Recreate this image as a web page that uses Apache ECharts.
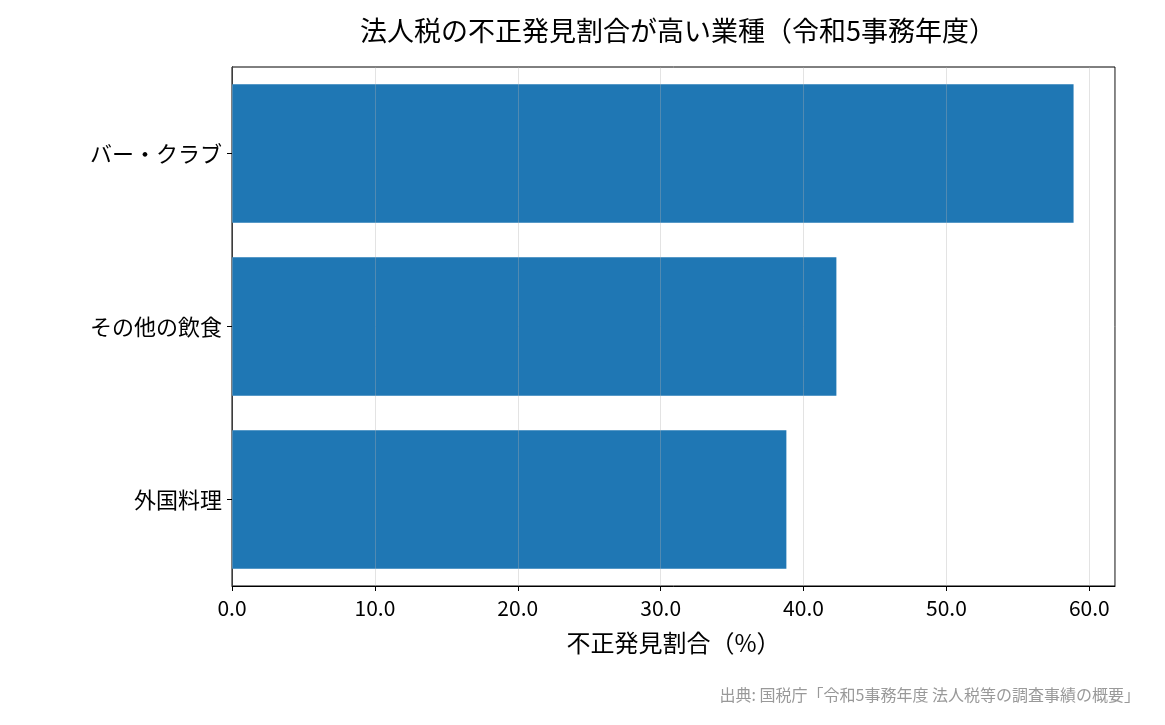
<!DOCTYPE html>
<html><head><meta charset="utf-8">
<script src="https://cdn.jsdelivr.net/npm/echarts@6/dist/echarts.min.js"></script>
<style>body{margin:0}#c{width:1165px;height:725px}</style></head>
<body><div id="c"></div>
<script>
const categories = ['バー・クラブ', 'その他の飲食', '外国料理'];
const values = [58.9, 42.3, 38.8];
const chart = echarts.init(document.getElementById('c'));
const F = '"Noto Sans CJK JP", sans-serif';
chart.setOption({
  animation: false,
  title: [{text: '法人税の不正発見割合が高い業種（令和5事務年度）', left: 673, top: 12, textAlign: 'center',
    textStyle: {fontFamily: F, fontSize: 27, fontWeight: 'normal', color: '#000'}},
    {text: '出典: 国税庁「令和5事務年度 法人税等の調査事績の概要」', right: 20, top: 682,
    textStyle: {fontFamily: F, fontSize: 16, fontWeight: 'normal', color: '#999'}}],
  grid: {left: 232, right: 50, top: 67, bottom: 139, show: true, borderColor: '#000', borderWidth: 1},
  xAxis: {type: 'value', min: 0, max: 61.8, interval: 10, z: 3,
    name: '不正発見割合（%）', nameLocation: 'middle', nameGap: 45,
    nameTextStyle: {fontFamily: F, fontSize: 24, color: '#000'},
    axisLine: {show: true, lineStyle: {color: '#000'}},
    axisTick: {show: true, length: 5, lineStyle: {color: '#000'}, interval: 0},
    axisLabel: {fontFamily: F, fontSize: 21, color: '#000', margin: 12,
      formatter: v => (Math.abs(v % 10) < 1e-6 ? v.toFixed(1) : ''), showMaxLabel: false},
    splitLine: {show: true, lineStyle: {color: 'rgba(176,176,176,0.35)'}}},
  yAxis: {type: 'category', data: categories, inverse: true,
    axisLine: {show: true, lineStyle: {color: '#000'}},
    axisTick: {show: true, alignWithLabel: true, length: 5, lineStyle: {color: '#000'}},
    axisLabel: {fontFamily: F, fontSize: 22, color: '#000', margin: 10}},
  series: [{type: 'bar', data: values, barCategoryGap: '20%', itemStyle: {color: '#1f77b4'}}]
});
</script></body></html>
